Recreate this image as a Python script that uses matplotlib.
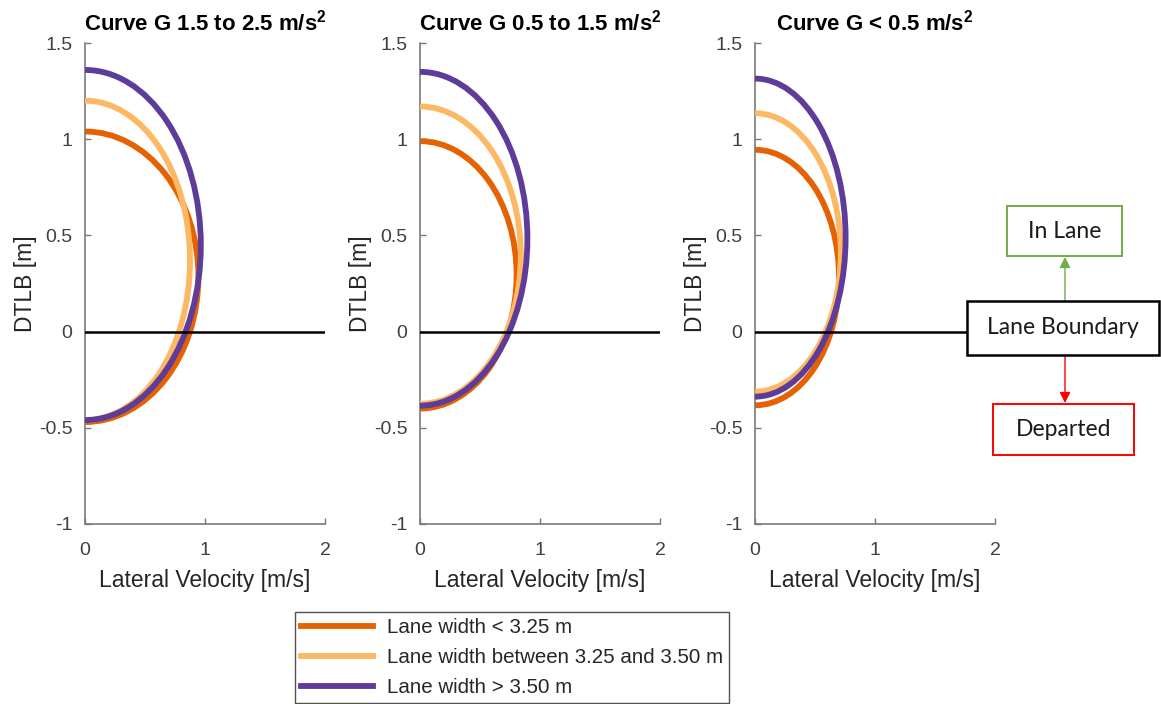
import numpy as np
import matplotlib
matplotlib.use("Agg")
import matplotlib.pyplot as plt
from matplotlib.patches import Arc, Rectangle, FancyArrowPatch
from matplotlib.lines import Line2D

plt.rcParams["font.family"] = ["Liberation Sans", "DejaVu Sans"]
plt.rcParams["mathtext.fontset"] = "custom"
plt.rcParams["mathtext.rm"] = "Liberation Sans"
plt.rcParams["mathtext.bf"] = "Liberation Sans:bold"

# ---- data: half-ellipse boundaries (DTLB extremes and peak lateral velocity) ----
panel_titles = [r"Curve G 1.5 to 2.5 m/s$^{\mathbf{2}}$",
                r"Curve G 0.5 to 1.5 m/s$^{\mathbf{2}}$",
                r"Curve G < 0.5 m/s$^{\mathbf{2}}$"]
lane_labels = ["Lane width < 3.25 m",
               "Lane width between 3.25 and 3.50 m",
               "Lane width > 3.50 m"]
lane_colors = ["#e66101", "#fdb863", "#5e3c99"]

# rows = curve G group, cols = lane width group
dtlb_top = [[1.04, 1.20, 1.36],
            [0.99, 1.17, 1.35],
            [0.945, 1.135, 1.315]]
dtlb_bottom = [[-0.47, -0.46, -0.46],
               [-0.40, -0.375, -0.385],
               [-0.383, -0.312, -0.338]]
vel_peak = [[0.945, 0.875, 0.965],
            [0.805, 0.84, 0.895],
            [0.70, 0.715, 0.755]]

x_ticks = [0, 1, 2]
y_ticks = [-1, -0.5, 0, 0.5, 1, 1.5]

W, H = 1161, 704
fig = plt.figure(figsize=(W / 100, H / 100), dpi=100)


def fx(px):
    return px / W


def fy(py):
    return 1 - py / H


axes_left_px = [85, 420, 755]
for i, left in enumerate(axes_left_px):
    ax = fig.add_axes([fx(left), fy(524), 240 / W, 481 / H])
    for j in range(3):
        top, bot, vmax = dtlb_top[i][j], dtlb_bottom[i][j], vel_peak[i][j]
        arc = Arc((0, (top + bot) / 2), 2 * vmax, top - bot, theta1=-90, theta2=90,
                  color=lane_colors[j], lw=4.2, zorder=2 + j, clip_on=False)
        ax.add_patch(arc)
    ax.axhline(0, color="black", lw=1.8, zorder=6)
    ax.set_xlim(0, 2)
    ax.set_ylim(-1, 1.5)
    ax.set_xticks(x_ticks)
    ax.set_yticks(y_ticks)
    ax.set_xticklabels([f"{t:g}" for t in x_ticks])
    ax.set_yticklabels([f"{t:g}" for t in y_ticks])
    for s in ["top", "right"]:
        ax.spines[s].set_visible(False)
    for s in ["left", "bottom"]:
        ax.spines[s].set_color("#7a7a7a")
        ax.spines[s].set_linewidth(1.2)
    ax.tick_params(direction="in", length=4, width=1, color="#7a7a7a",
                   labelsize=14, labelcolor="#404040")
    ax.tick_params(axis="x", pad=13)
    ax.tick_params(axis="y", pad=9)
    ax.set_xlabel("Lateral Velocity [m/s]", fontsize=16.5, color="#262626", labelpad=7)
    ax.set_ylabel("DTLB [m]", fontsize=16.5, color="#262626", labelpad=1)
    ax.set_title(panel_titles[i], fontsize=16, fontweight="bold", pad=9)

# legend below the panels
handles = [Line2D([], [], color=c, lw=4.2) for c in lane_colors]
leg = fig.legend(handles, lane_labels, loc="upper left",
                 bbox_to_anchor=(fx(295), fy(612)), fontsize=14.8,
                 handlelength=3.5, handletextpad=0.7, labelspacing=0.55,
                 borderpad=0.28, borderaxespad=0, frameon=True, fancybox=False)
leg.get_frame().set_edgecolor("#262626")
leg.get_frame().set_linewidth(1.0)
for t in leg.get_texts():
    t.set_color("#262626")

# lane boundary annotation boxes
box_font = ["Lato", "DejaVu Sans"]


def label_box(x0, y0, x1, y1, text, edge, lw):
    fig.patches.append(Rectangle((fx(x0), fy(y1)), fx(x1) - fx(x0), fy(y0) - fy(y1),
                                 transform=fig.transFigure, facecolor="white",
                                 edgecolor=edge, lw=lw, zorder=5))
    fig.text(fx((x0 + x1) / 2), fy((y0 + y1) / 2), text, ha="center", va="center",
             fontsize=16.5, family=box_font, color="#1a1a1a", zorder=6)


label_box(967, 301, 1159, 355, "Lane Boundary", "black", 1.8)
label_box(1007, 206, 1122, 256, "In Lane", "#70ad47", 1.4)
label_box(993, 404, 1134, 455, "Departed", "#ff0000", 1.4)

fig.patches.append(FancyArrowPatch((fx(1065), fy(301)), (fx(1065), fy(257)),
                                   transform=fig.transFigure, arrowstyle="-|>",
                                   mutation_scale=16, color="#70ad47", lw=1.0,
                                   shrinkA=0, shrinkB=0, zorder=4))
fig.patches.append(FancyArrowPatch((fx(1065), fy(355)), (fx(1065), fy(403)),
                                   transform=fig.transFigure, arrowstyle="-|>",
                                   mutation_scale=16, color="#ff0000", lw=1.0,
                                   shrinkA=0, shrinkB=0, zorder=4))

fig.savefig("out.png", dpi=100)
